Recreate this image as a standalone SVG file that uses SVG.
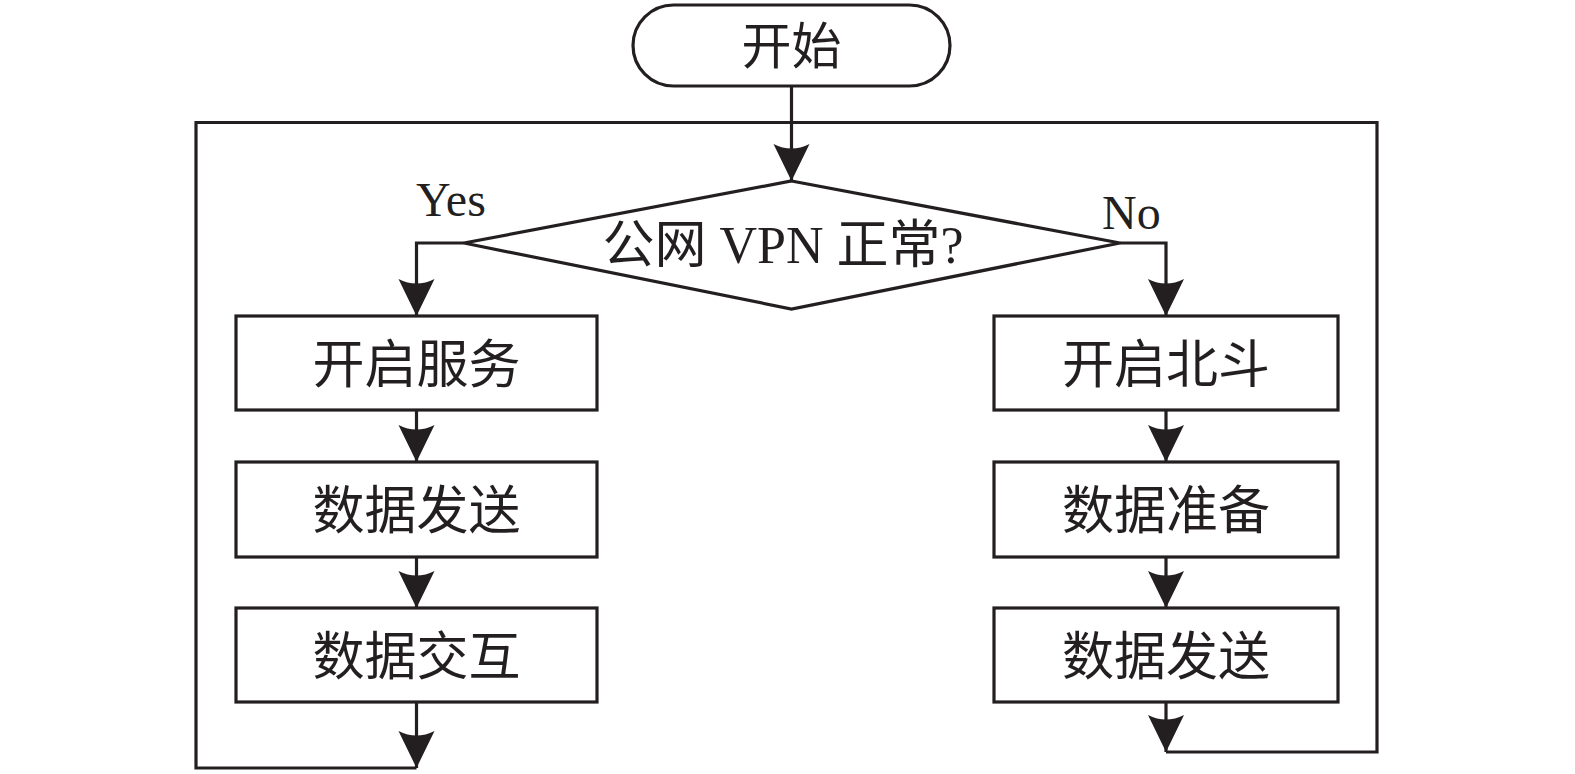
<svg xmlns="http://www.w3.org/2000/svg" width="1575" height="774" viewBox="0 0 1575 774">
<style>
.shape{fill:#fff;stroke:#231f20;stroke-width:3.2}
.line{fill:none;stroke:#231f20;stroke-width:3.2}
.t{font-family:"Liberation Serif","Noto Sans CJK SC",serif;font-size:52px;fill:#231f20;text-anchor:middle;dominant-baseline:central}
.ts{font-size:50px}
.lbl{font-family:"Liberation Serif",serif;font-size:48px;fill:#231f20}
</style>
<defs>
<marker id="arr" markerUnits="userSpaceOnUse" viewBox="-40 -20 42 40" refX="0" refY="0" markerWidth="42" markerHeight="40" orient="auto">
<path d="M0,0 L-37,-18 Q-28,0 -37,18 Z" fill="#231f20"/>
</marker>
</defs>
<g id="connectors">
<path class="line" d="M791.5,86 V181" marker-end="url(#arr)"/>
<path class="line" d="M464,243 H416.5 V316" marker-end="url(#arr)"/>
<path class="line" d="M1120,243 H1166 V316" marker-end="url(#arr)"/>
<path class="line" d="M416.5,410 V462" marker-end="url(#arr)"/>
<path class="line" d="M416.5,557 V608" marker-end="url(#arr)"/>
<path class="line" d="M1166,410 V462" marker-end="url(#arr)"/>
<path class="line" d="M1166,557 V608" marker-end="url(#arr)"/>
<path class="line" d="M416.5,702 V768" marker-end="url(#arr)"/>
<path class="line" d="M1166,702 V752" marker-end="url(#arr)"/>
<path class="line" d="M416.5,768 H196 V122.5 H1377 V752 H1166"/>
</g>
<g id="start">
<rect class="shape" x="633" y="5" width="317" height="81" rx="40.5"/>
<text class="t ts" x="791.5" y="47">开始</text>
</g>
<g id="decision">
<polygon class="shape" points="791.5,181 1120,243 791.5,309 464,243"/>
<text class="t" x="783" y="245">公网 VPN 正常?</text>
</g>
<g id="label-yes"><text class="lbl" x="416" y="216">Yes</text></g>
<g id="label-no"><text class="lbl" x="1102" y="229">No</text></g>
<g id="l1"><rect class="shape" x="236" y="316" width="361" height="94"/><text class="t" x="416.5" y="365">开启服务</text></g>
<g id="l2"><rect class="shape" x="236" y="462" width="361" height="95"/><text class="t" x="416.5" y="511">数据发送</text></g>
<g id="l3"><rect class="shape" x="236" y="608" width="361" height="94"/><text class="t" x="416.5" y="657">数据交互</text></g>
<g id="r1"><rect class="shape" x="994" y="316" width="344" height="94"/><text class="t" x="1166" y="365">开启北斗</text></g>
<g id="r2"><rect class="shape" x="994" y="462" width="344" height="95"/><text class="t" x="1166" y="511">数据准备</text></g>
<g id="r3"><rect class="shape" x="994" y="608" width="344" height="94"/><text class="t" x="1166" y="657">数据发送</text></g>
</svg>
